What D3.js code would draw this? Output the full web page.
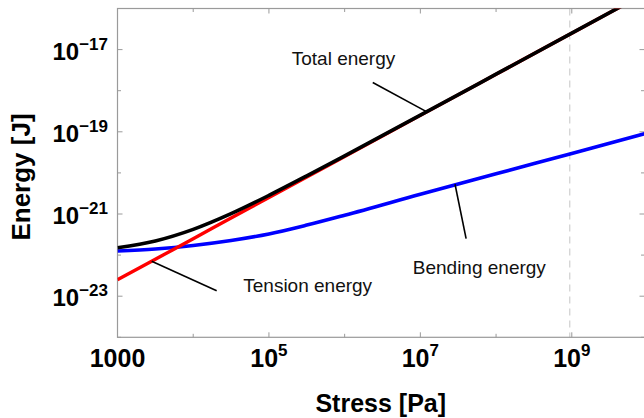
<!DOCTYPE html>
<html>
<head>
<meta charset="utf-8">
<script src="https://cdn.jsdelivr.net/npm/d3@7"></script>
<style>
  html, body { margin: 0; padding: 0; background: #fff; }
  svg text { font-family: "Liberation Sans", Arial, sans-serif; }
</style>
</head>
<body>
<svg id="chart" width="644" height="418"></svg>
<script>
// Stress values (Pa) at which the energies are sampled
const stress = [1000, 3162, 10000, 31623, 100000, 316228, 1e6, 1e7, 1e8, 1e9, 1e10];

// Energies (J)
const bendingEnergy = [1.259e-22, 1.413e-22, 1.718e-22, 2.265e-22, 3.273e-22, 5.37e-22, 9.33e-22, 3.02e-21, 9.55e-21, 2.95e-20, 9.33e-20];
const tensionEnergy = [2.51e-23, 7.94e-23, 2.51e-22, 7.94e-22, 2.51e-21, 7.94e-21, 2.51e-20, 2.51e-19, 2.51e-18, 2.51e-17, 2.51e-16];
const totalEnergy   = [1.51e-22, 2.21e-22, 4.23e-22, 1.02e-21, 2.84e-21, 8.48e-21, 2.60e-20, 2.54e-19, 2.52e-18, 2.51e-17, 2.51e-16];

// Axis ticks
const xMajorTicks = [1e3, 1e5, 1e7, 1e9];
const xMinorTicks = [1e4, 1e6, 1e8];
const yMajorTicks = [1e-23, 1e-21, 1e-19, 1e-17];
const yMinorTicks = [1e-24, 1e-22, 1e-20, 1e-18, 1e-16];

// Reference stress marked by the dashed line
const markerStress = [9.4e8];

// Callout labels: text anchor point, pointer start and pointer end (data units)
const calloutText   = ["Total energy", "Tension energy", "Bending energy"];
const calloutLabelX = [2.0e5, 4.58e4, 7.94e6];
const calloutLabelY = [4.17e-18, 1.245e-23, 3.41e-23];
const calloutFromX  = [2.35e6, 2.04e4, 4.02e7];
const calloutFromY  = [1.585e-18, 1.35e-23, 2.51e-22];
const calloutToX    = [1.22e7, 2.83e3, 2.87e7];
const calloutToY    = [3.06e-19, 7.1e-23, 5.3e-21];

const svg = d3.select("#chart");
const plotLeft = 117.5, plotRight = 647.5, plotTop = 8.5, plotBottom = 337.3;

const x = d3.scaleLog().domain([1e3, 1e10]).range([plotLeft, plotRight]);
const y = d3.scaleLog().domain([1e-24, 1e-16]).range([plotBottom, plotTop]);

const frameColor = "#9a9a9a";

// clip region for the curves
svg.append("defs").append("clipPath").attr("id", "plotClip")
  .append("rect").attr("x", plotLeft).attr("y", plotTop)
  .attr("width", plotRight - plotLeft).attr("height", plotBottom - plotTop);

// dashed reference line
svg.selectAll("line.marker").data(markerStress).join("line")
  .attr("class", "marker")
  .attr("x1", d => x(d)).attr("x2", d => x(d))
  .attr("y1", plotTop).attr("y2", plotBottom)
  .attr("stroke", "#cfcfcf").attr("stroke-width", 1.2)
  .attr("stroke-dasharray", "7,5");

// frame (the right side sits just past the window edge)
svg.append("rect")
  .attr("x", plotLeft).attr("y", plotTop)
  .attr("width", plotRight - plotLeft).attr("height", plotBottom - plotTop)
  .attr("fill", "none").attr("stroke", frameColor).attr("stroke-width", 1.2);

// inward ticks on all four sides
function xTicks(vals, len) {
  svg.append("g").selectAll("line").data(vals).join("line")
    .attr("x1", d => x(d)).attr("x2", d => x(d))
    .attr("y1", plotBottom).attr("y2", plotBottom - len)
    .attr("stroke", frameColor).attr("stroke-width", 1);
  svg.append("g").selectAll("line").data(vals).join("line")
    .attr("x1", d => x(d)).attr("x2", d => x(d))
    .attr("y1", plotTop).attr("y2", plotTop + len)
    .attr("stroke", frameColor).attr("stroke-width", 1);
}
function yTicks(vals, len) {
  svg.append("g").selectAll("line").data(vals).join("line")
    .attr("x1", plotLeft).attr("x2", plotLeft + len)
    .attr("y1", d => y(d)).attr("y2", d => y(d))
    .attr("stroke", frameColor).attr("stroke-width", 1);
  svg.append("g").selectAll("line").data(vals).join("line")
    .attr("x1", plotRight - 3).attr("x2", plotRight - 3 - len)
    .attr("y1", d => y(d)).attr("y2", d => y(d))
    .attr("stroke", frameColor).attr("stroke-width", 1);
}
xTicks(xMajorTicks, 5);
xTicks(xMinorTicks, 3.5);
yTicks(yMajorTicks, 5);
yTicks(yMinorTicks, 3.5);

// tick labels written as powers of ten
const sup = d => {
  const e = Math.round(Math.log10(d));
  return e < 0 ? "\u2212" + Math.abs(e) : String(e);
};

const xLab = svg.append("g").selectAll("text").data(xMajorTicks).join("text")
  .attr("x", d => x(d)).attr("y", 367)
  .attr("text-anchor", "middle")
  .attr("font-weight", "bold").attr("font-size", 25).attr("fill", "#000");
xLab.each(function(d) {
  const t = d3.select(this);
  if (d === 1000) { t.text("1000"); return; }
  t.append("tspan").text("10");
  t.append("tspan").attr("dy", -11).attr("font-size", 17).text(sup(d));
});

const yLab = svg.append("g").selectAll("text").data(yMajorTicks).join("text")
  .attr("x", 108).attr("y", d => y(d) + 10)
  .attr("text-anchor", "end")
  .attr("font-weight", "bold").attr("font-size", 24).attr("fill", "#000");
yLab.each(function(d) {
  const t = d3.select(this);
  t.append("tspan").text("10");
  t.append("tspan").attr("dy", -10).attr("font-size", 17).text(sup(d));
});

// axis titles
svg.append("text")
  .attr("x", (plotLeft + 644) / 2).attr("y", 411.5)
  .attr("text-anchor", "middle")
  .attr("font-weight", "bold").attr("font-size", 25)
  .text("Stress [Pa]");

svg.append("text")
  .attr("transform", "translate(30,177) rotate(-90)")
  .attr("text-anchor", "middle")
  .attr("font-weight", "bold").attr("font-size", 26)
  .text("Energy [J]");

// curves
const line = vals => d3.line()
  .x((d, i) => x(stress[i]))
  .y((d, i) => y(vals[i]))
  .curve(d3.curveMonotoneX)(vals);

const curves = svg.append("g").attr("clip-path", "url(#plotClip)");
curves.append("path").attr("d", line(bendingEnergy))
  .attr("fill", "none").attr("stroke", "#0000ff").attr("stroke-width", 3.6);
curves.append("path").attr("d", line(tensionEnergy))
  .attr("fill", "none").attr("stroke", "#ff0000").attr("stroke-width", 3.4);
curves.append("path").attr("d", line(totalEnergy))
  .attr("fill", "none").attr("stroke", "#000000").attr("stroke-width", 3.6);

// callouts
const callouts = calloutText.map((t, i) => ({ t, i }));
svg.append("g").selectAll("line").data(callouts).join("line")
  .attr("x1", d => x(calloutFromX[d.i])).attr("y1", d => y(calloutFromY[d.i]))
  .attr("x2", d => x(calloutToX[d.i])).attr("y2", d => y(calloutToY[d.i]))
  .attr("stroke", "#000").attr("stroke-width", 1.6);
svg.append("g").selectAll("text").data(callouts).join("text")
  .attr("x", d => x(calloutLabelX[d.i])).attr("y", d => y(calloutLabelY[d.i]))
  .attr("font-size", 19).attr("fill", "#111")
  .text(d => d.t);
</script>
</body>
</html>
